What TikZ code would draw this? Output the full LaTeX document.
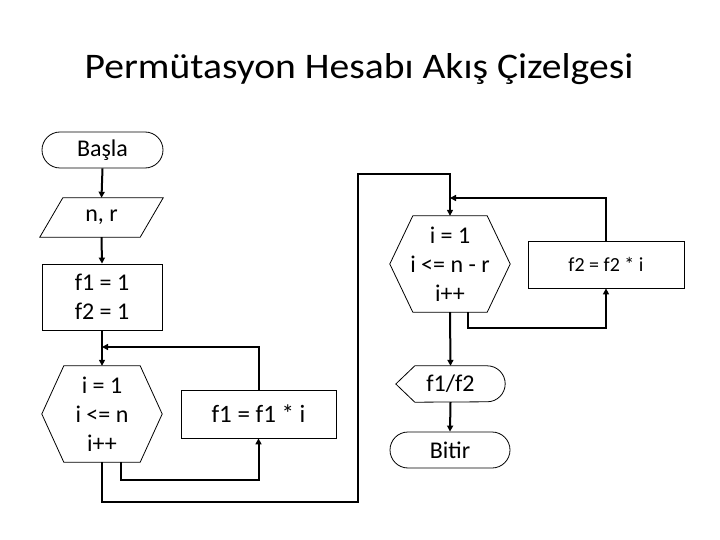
\documentclass[tikz,border=0pt]{standalone}
\usepackage{fontspec}
\setmainfont{Carlito}
\usetikzlibrary{arrows.meta}
\tikzset{
  lbl/.style={inner sep=0pt, align=center, font=\fontsize{24}{29}\selectfont},
  boxed/.style={lbl, draw, line width=0.8pt},
  outline/.style={draw, line width=0.8pt},
  conn/.style={line width=2pt, -{Triangle[length=6pt,width=6pt]}},
  connplain/.style={line width=2pt}
}
\begin{document}
\begin{tikzpicture}[x=1pt,y=-1pt]
\useasboundingbox[fill=white] (0,0) rectangle (720,540);
\node[inner sep=0pt, anchor=base, font=\fontsize{36}{43}\selectfont] (title) at (359,79) {\scalebox{1.10}[1]{Permütasyon Hesabı Akış Çizelgesi}};

% Start
\node[boxed, rounded corners=18pt, minimum width=121pt, minimum height=36pt] (start) at (102.5,150) {Başla};
% Input
\node[lbl, minimum width=123pt, minimum height=39pt] (inp) at (101.5,217.5) {n, r};
\draw[outline] ([xshift=23pt]inp.north west) -- (inp.north east) -- ([xshift=-23pt]inp.south east) -- (inp.south west) -- cycle;
% init
\node[boxed, minimum width=120pt, minimum height=66pt] (init) at (102,297) {f1 = 1\\f2 = 1};
% loop 1 hexagon
\node[lbl, minimum width=120pt, minimum height=96pt] (h1) at (102,414) {i = 1\\i <= n\\i++};
\draw[outline] ([xshift=22pt]h1.north west) -- ([xshift=-22pt]h1.north east) -- (h1.east) -- ([xshift=-22pt]h1.south east) -- ([xshift=22pt]h1.south west) -- (h1.west) -- cycle;
% body 1
\node[boxed, minimum width=155pt, minimum height=48pt, font=\fontsize{25}{30}\selectfont] (b1) at (258.5,414) {f1 = f1 * i};
% loop 2 hexagon
\node[lbl, minimum width=120pt, minimum height=96pt] (h2) at (450,264) {i = 1\\i <= n - r\\i++};
\draw[outline] ([xshift=23pt]h2.north west) -- ([xshift=-23pt]h2.north east) -- (h2.east) -- ([xshift=-23pt]h2.south east) -- ([xshift=23pt]h2.south west) -- (h2.west) -- cycle;
% body 2
\node[boxed, minimum width=156pt, minimum height=47pt, font=\fontsize{20}{24}\selectfont] (b2) at (606,264.5) {f2 = f2 * i};
% output display
\node[lbl, minimum width=109pt, minimum height=36pt] (out) at (450.5,384) {f1/f2};
\draw[outline] ([xshift=19pt]out.north west) -- ([xshift=-18pt]out.north east) arc[start angle=90, end angle=-90, radius=18pt] -- ([xshift=19pt]out.south west) -- (out.west) -- cycle;
% end
\node[boxed, rounded corners=18pt, minimum width=120pt, minimum height=36pt] (stop) at (450,450) {Bitir};

% junction coordinates
\coordinate (j1) at (102,347);
\coordinate (j2) at (450,198);
\coordinate (h1r) at (121,462);
\coordinate (h2r) at (468,312);

% connectors
\draw[conn] (start.south) -- (inp.north);
\draw[conn] (inp.south) -- (init.north);
\draw[conn] (init.south) -- (h1.north);
\draw[conn] (b1.north) |- (j1);
\draw[conn] (h1r) -- ++(0,18) -| (b1.south);
\draw[conn] (h1.south) -- ++(0,40) -| (358,174) -| (h2.north);
\draw[conn] (b2.north) |- (j2);
\draw[conn] (h2r) -- ++(0,16) -| (b2.south);
\draw[conn] (h2.south) -- (out.north);
\draw[conn] (out.south) -- (stop.north);
\end{tikzpicture}
\end{document}
